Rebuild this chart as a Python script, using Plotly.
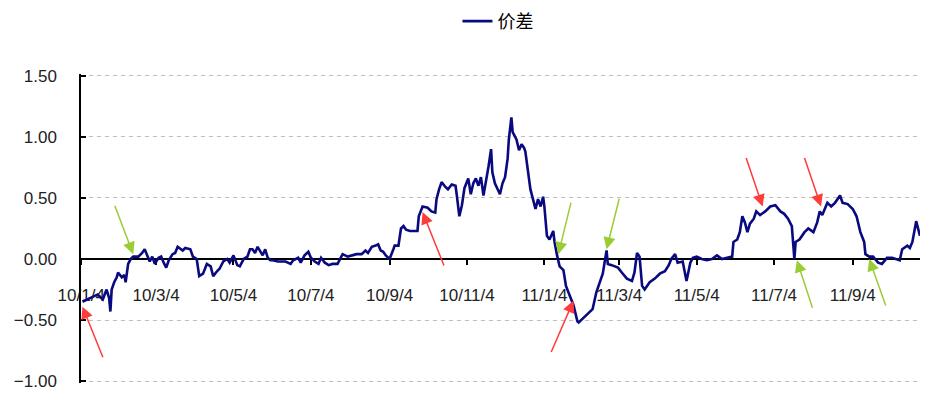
import pandas as pd
import plotly.graph_objects as go

start_date = "2010-01-04"
day_offsets = [1, 3, 6, 9, 11, 13, 17, 19, 20, 22, 23, 24, 26, 28, 29, 32, 34, 35, 37, 39,
               41, 45, 48, 50, 53, 54, 56, 58, 61, 63, 65, 67, 69, 72, 74, 76, 80, 82, 86, 88,
               91, 93, 96, 99, 102, 104, 107, 109, 112, 115, 117, 120, 123, 125, 128, 131, 133, 135, 137, 139,
               143, 145, 147, 149, 151, 155, 161, 165, 167, 171, 173, 176, 179, 181, 184, 187, 189, 192, 195, 198,
               202, 204, 206, 210, 213, 217, 221, 224, 226, 229, 232, 234, 236, 238, 240, 243, 246, 247, 250, 252,
               254, 256, 259, 262, 265, 266, 269, 273, 276, 279, 280, 282, 284, 287, 289, 292, 295, 296, 298, 300,
               302, 305, 307, 309, 311, 313, 315, 317, 319, 321, 323, 324, 326, 328, 330, 332, 334, 336, 337, 339,
               340, 343, 345, 347, 349, 350, 352, 354, 356, 358, 360, 362, 364, 365, 367, 369, 372, 373, 375, 377,
               380, 382, 385, 388, 391, 392, 395, 399, 403, 406, 409, 411, 414, 415, 418, 421, 423, 426, 430, 434,
               436, 438, 440, 442, 444, 448, 452, 456, 460, 463, 465, 468, 470, 474, 477, 480, 482, 485, 489, 493,
               497, 501, 505, 509, 513, 514, 517, 519, 521, 523, 525, 527, 530, 532, 535, 539, 543, 547, 551, 554,
               557, 560, 562, 563, 566, 570, 573, 577, 580, 582, 584, 588, 591, 594, 598, 600, 604, 608, 611, 614,
               617, 618, 621, 624, 628, 631, 635, 639, 645, 647, 651, 653, 655, 658, 659, 661]
spread = [-0.35, -0.34, -0.33, -0.31, -0.30, -0.29, -0.33, -0.27, -0.25, -0.32, -0.43, -0.25, -0.19, -0.15, -0.11, -0.15, -0.13, -0.19, -0.04, 0.00,
          0.02, 0.02, 0.05, 0.08, 0.00, -0.02, 0.02, -0.04, 0.01, 0.02, -0.03, -0.07, -0.01, 0.04, 0.05, 0.10, 0.07, 0.09, 0.08, 0.02,
          0.00, -0.14, -0.12, -0.04, -0.06, -0.14, -0.10, -0.08, -0.02, 0.00, -0.03, 0.03, -0.05, -0.06, 0.00, 0.02, 0.08, 0.08, 0.05, 0.10,
          0.03, 0.08, 0.01, -0.01, -0.01, -0.02, -0.02, -0.04, -0.01, 0.01, -0.03, 0.03, 0.06, 0.01, -0.02, -0.04, 0.01, -0.03, -0.05, -0.04,
          -0.04, 0.00, 0.04, 0.02, 0.03, 0.04, 0.04, 0.07, 0.05, 0.10, 0.11, 0.12, 0.07, 0.06, 0.03, 0.00, 0.08, 0.11, 0.11, 0.25,
          0.27, 0.24, 0.23, 0.23, 0.23, 0.35, 0.43, 0.42, 0.39, 0.38, 0.49, 0.57, 0.63, 0.59, 0.57, 0.61, 0.60, 0.52, 0.35, 0.44,
          0.58, 0.66, 0.53, 0.62, 0.66, 0.60, 0.67, 0.52, 0.63, 0.76, 0.90, 0.71, 0.62, 0.57, 0.53, 0.62, 0.67, 0.82, 0.98, 1.16,
          1.04, 0.98, 0.89, 0.94, 0.91, 0.88, 0.71, 0.57, 0.49, 0.41, 0.49, 0.43, 0.51, 0.43, 0.19, 0.16, 0.23, 0.14, 0.03, -0.06,
          -0.09, -0.22, -0.30, -0.38, -0.51, -0.52, -0.49, -0.45, -0.41, -0.27, -0.18, -0.12, 0.07, -0.04, -0.05, -0.06, -0.07, -0.11, -0.16, -0.18,
          -0.11, 0.05, 0.02, -0.22, -0.25, -0.19, -0.16, -0.12, -0.10, -0.05, 0.00, 0.04, -0.03, -0.02, -0.18, -0.03, 0.01, 0.02, 0.00, -0.01,
          0.00, 0.03, 0.00, 0.01, 0.02, 0.14, 0.16, 0.22, 0.35, 0.30, 0.22, 0.29, 0.33, 0.39, 0.36, 0.39, 0.43, 0.44, 0.39, 0.37,
          0.33, 0.27, 0.00, 0.14, 0.16, 0.22, 0.25, 0.22, 0.30, 0.39, 0.36, 0.46, 0.43, 0.46, 0.52, 0.46, 0.45, 0.41, 0.35, 0.22,
          0.14, 0.04, 0.02, 0.02, -0.03, -0.04, 0.01, 0.01, -0.01, 0.08, 0.11, 0.09, 0.14, 0.31, 0.26, 0.19]

tick_dates = ["2010-01-04", "2010-03-04", "2010-05-04", "2010-07-04", "2010-09-04", "2010-11-04",
              "2011-01-04", "2011-03-04", "2011-05-04", "2011-07-04", "2011-09-04"]
tick_labels = ["10/1/4", "10/3/4", "10/5/4", "10/7/4", "10/9/4", "10/11/4",
               "11/1/4", "11/3/4", "11/5/4", "11/7/4", "11/9/4"]
y_ticks = [-1.0, -0.5, 0.0, 0.5, 1.0, 1.5]

# arrow annotations: tip date, tip value, tail offset (px), colour
arrow_dates = ["2010-01-05", "2010-02-14", "2010-09-30", "2011-01-15", "2011-01-27",
               "2011-02-22", "2011-06-25", "2011-07-22", "2011-08-10", "2011-09-17"]
arrow_values = [-0.39, 0.04, 0.385, 0.04, -0.34, 0.08, 0.43, -0.01, 0.43, 0.00]
arrow_kind = ["red", "green", "red", "green", "red", "green", "red", "green", "red", "green"]
arrow_ax = [21, -19, 22, 13, -23, 13, -17, 16, -17, 17]
arrow_ay = [52, -50, 55, -53, 53, -52, -50, 49, -50, 48]

dates = pd.to_datetime(start_date) + pd.to_timedelta(day_offsets, unit="D")

fig = go.Figure()
fig.add_trace(go.Scatter(x=dates, y=spread, mode="lines", name="价差",
                         line=dict(color="#0A0A80", width=2.6)))

colors = {"red": "#FF3B3B", "green": "#9ACD32"}
for d, v, k, ax, ay in zip(arrow_dates, arrow_values, arrow_kind, arrow_ax, arrow_ay):
    fig.add_annotation(x=d, y=v, xref="x", yref="y", text="", showarrow=True,
                       ax=ax, ay=ay, arrowhead=2, arrowsize=1.6, arrowwidth=1.5,
                       arrowcolor=colors[k])

y_lo, y_hi = -1.015, 1.515

fig.update_layout(
    width=933, height=399,
    margin=dict(l=81, r=13, t=74, b=16, autoexpand=False),
    paper_bgcolor="white", plot_bgcolor="white",
    font=dict(family="Liberation Sans, Arial, sans-serif", size=17, color="#222222"),
    showlegend=True,
    legend=dict(orientation="h", x=0.497, xanchor="center", y=1.17, yanchor="middle",
                font=dict(family="Noto Sans CJK SC", size=18, color="#000000"),
                bgcolor="rgba(0,0,0,0)"),
    xaxis=dict(type="date", range=["2010-01-03 20:00", "2011-10-27"],
               tickvals=tick_dates, ticktext=tick_labels,
               anchor="free", position=(0 - y_lo) / (y_hi - y_lo),
               showline=True, linecolor="black", linewidth=1.5,
               ticks="outside", ticklen=5, tickcolor="black", tickwidth=1.5,
               ticklabelstandoff=16, showgrid=False, zeroline=False, layer="below traces",
               tickfont=dict(size=17, color="#222222"), automargin=False),
    yaxis=dict(range=[y_lo, y_hi], tickvals=y_ticks, tickformat=".2f",
               showline=True, linecolor="black", linewidth=1.5,
               ticks="inside", ticklen=5, tickcolor="black", tickwidth=1.5,
               ticklabelstandoff=19, automargin=False,
               showgrid=True, gridcolor="#BEBEBE", griddash="4px,4px", gridwidth=1,
               zeroline=True, zerolinecolor="black", zerolinewidth=1.5,
               tickfont=dict(size=17, color="#222222")),
)

fig.write_html("out.html")
